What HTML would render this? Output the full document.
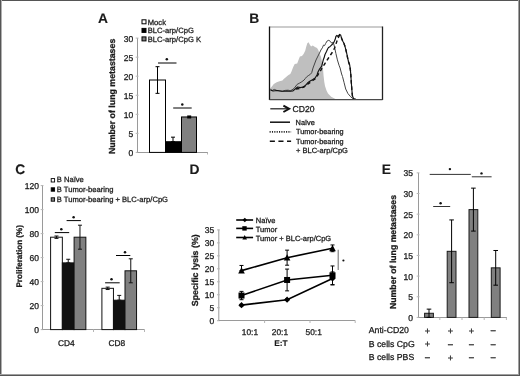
<!DOCTYPE html><html><head><meta charset="utf-8"><style>html,body{margin:0;padding:0;background:#fff;}svg{display:block;will-change:transform;text-rendering:geometricPrecision;}</style></head><body>
<svg width="520" height="376" viewBox="0 0 520 376" font-family='"Liberation Sans", sans-serif'>
<rect x="0" y="0" width="520" height="376" fill="#fff"/>
<g stroke-linecap="butt">
<text x="97.9" y="22.7" font-size="13.8" text-anchor="start" font-weight="bold" fill="#1a1a1a" stroke="#1a1a1a" stroke-width="0.12" >A</text>
<rect x="142" y="19.8" width="4" height="4" fill="#fff" stroke="#000" stroke-width="1"/>
<text x="147.8" y="24.8" font-size="7.6" text-anchor="start" fill="#1a1a1a" stroke="#1a1a1a" stroke-width="0.28" >Mock</text>
<rect x="142" y="28.4" width="4" height="4" fill="#000" stroke="#000" stroke-width="1"/>
<text x="147.8" y="33.4" font-size="7.6" text-anchor="start" fill="#1a1a1a" stroke="#1a1a1a" stroke-width="0.28" >BLC-arp/CpG</text>
<rect x="142" y="36.9" width="4" height="4" fill="#808080" stroke="#000" stroke-width="1"/>
<text x="147.8" y="41.9" font-size="7.6" text-anchor="start" fill="#1a1a1a" stroke="#1a1a1a" stroke-width="0.28" >BLC-arp/CpG K</text>
<line x1="137.5" y1="38.1" x2="137.5" y2="152.4" stroke="#9a9a9a" stroke-width="1" />
<line x1="135.7" y1="152.4" x2="138.5" y2="152.4" stroke="#b5b5b5" stroke-width="1" />
<text x="133.2" y="155.86" font-size="8.5" text-anchor="end" fill="#1a1a1a" stroke="#1a1a1a" stroke-width="0.28" >0</text>
<line x1="135.7" y1="133.35" x2="138.5" y2="133.35" stroke="#b5b5b5" stroke-width="1" />
<text x="133.2" y="136.81" font-size="8.5" text-anchor="end" fill="#1a1a1a" stroke="#1a1a1a" stroke-width="0.28" >5</text>
<line x1="135.7" y1="114.30000000000001" x2="138.5" y2="114.30000000000001" stroke="#b5b5b5" stroke-width="1" />
<text x="133.2" y="117.76000000000002" font-size="8.5" text-anchor="end" fill="#1a1a1a" stroke="#1a1a1a" stroke-width="0.28" >10</text>
<line x1="135.7" y1="95.25" x2="138.5" y2="95.25" stroke="#b5b5b5" stroke-width="1" />
<text x="133.2" y="98.71000000000001" font-size="8.5" text-anchor="end" fill="#1a1a1a" stroke="#1a1a1a" stroke-width="0.28" >15</text>
<line x1="135.7" y1="76.2" x2="138.5" y2="76.2" stroke="#b5b5b5" stroke-width="1" />
<text x="133.2" y="79.66000000000001" font-size="8.5" text-anchor="end" fill="#1a1a1a" stroke="#1a1a1a" stroke-width="0.28" >20</text>
<line x1="135.7" y1="57.150000000000006" x2="138.5" y2="57.150000000000006" stroke="#b5b5b5" stroke-width="1" />
<text x="133.2" y="60.61000000000001" font-size="8.5" text-anchor="end" fill="#1a1a1a" stroke="#1a1a1a" stroke-width="0.28" >25</text>
<line x1="135.7" y1="38.099999999999994" x2="138.5" y2="38.099999999999994" stroke="#b5b5b5" stroke-width="1" />
<text x="133.2" y="41.559999999999995" font-size="8.5" text-anchor="end" fill="#1a1a1a" stroke="#1a1a1a" stroke-width="0.28" >30</text>
<line x1="137.5" y1="152.5" x2="208" y2="152.5" stroke="#9a9a9a" stroke-width="1" />
<line x1="207.5" y1="152.5" x2="207.5" y2="154.5" stroke="#b5b5b5" stroke-width="1" />
<rect x="149.5" y="80.01" width="16" height="72.39" fill="#fff" stroke="#000" stroke-width="1"/>
<rect x="165.5" y="141.732" width="16" height="10.668000000000006" fill="#000" stroke="#000" stroke-width="1"/>
<rect x="181.5" y="116.96700000000001" width="15" height="35.43299999999999" fill="#808080" stroke="#000" stroke-width="1"/>
<line x1="157.5" y1="66.67500000000001" x2="157.5" y2="93.345" stroke="#000" stroke-width="1" />
<line x1="155.5" y1="66.67500000000001" x2="159.5" y2="66.67500000000001" stroke="#000" stroke-width="1" />
<line x1="155.5" y1="93.345" x2="159.5" y2="93.345" stroke="#000" stroke-width="1" />
<line x1="173.0" y1="137.16" x2="173.0" y2="141.732" stroke="#000" stroke-width="1" />
<line x1="171.0" y1="137.16" x2="175.0" y2="137.16" stroke="#000" stroke-width="1" />
<line x1="171.0" y1="141.732" x2="175.0" y2="141.732" stroke="#000" stroke-width="1" />
<line x1="189.2" y1="116.20500000000001" x2="189.2" y2="117.72900000000001" stroke="#000" stroke-width="1.5" />
<line x1="187.2" y1="116.20500000000001" x2="191.2" y2="116.20500000000001" stroke="#000" stroke-width="1.5" />
<line x1="187.2" y1="117.72900000000001" x2="191.2" y2="117.72900000000001" stroke="#000" stroke-width="1.5" />
<line x1="158" y1="63" x2="176.5" y2="63" stroke="#000" stroke-width="1" />
<circle cx="166.8" cy="59.3" r="1.25" fill="#111"/>
<line x1="173.2" y1="108" x2="191.7" y2="108" stroke="#000" stroke-width="1" />
<circle cx="182.3" cy="104.6" r="1.25" fill="#111"/>
<text x="0" y="0" font-size="8.8" font-weight="bold" text-anchor="middle" fill="#1a1a1a" stroke="#1a1a1a" stroke-width="0.28" transform="translate(114.5,96.4) rotate(-90)">Number of lung metastases</text>
<text x="249.3" y="22.8" font-size="13.8" text-anchor="start" font-weight="bold" fill="#1a1a1a" stroke="#1a1a1a" stroke-width="0.12" >B</text>
<path d="M 270,99.3 L 270,88.5 L 271.5,87 L 273.8,84.1 L 276.7,82.2 L 279.5,81.3 L 282.4,80.6 L 283.5,79.2 L 286.7,76.5 L 288.5,75 L 290.3,74 L 291.5,71.6 L 293.1,67.3 L 294.7,64.1 L 297.2,63.5 L 298.8,59.3 L 299.9,56.6 L 302,56.1 L 303.6,54 L 305.2,50.8 L 306.3,46.5 L 307.3,43.3 L 308.6,42.3 L 309.7,44.4 L 311.1,46.5 L 312.7,45.4 L 315,47 L 317,48 L 318.3,50 L 319.6,54 L 320.9,56.6 L 321.6,60 L 322.3,63 L 322.8,67 L 323.2,71 L 323.6,76 L 324.3,82 L 325,86 L 326.5,90.5 L 328,93.5 L 331.2,96.8 L 334.5,98.5 L 336,99.3 Z" fill="#bfbfbf" stroke="none"/>
<path d="M 270.5,89.5 L 272.3,90.4 L 274.3,89.4 L 276.7,90.4 L 279.5,90.9 L 282.4,91.3 L 285.3,90.4 L 288.2,90.2 L 290.1,90.9 L 292,89.9 L 294,88.5 L 297.1,84.4 L 299.2,83.3 L 301.9,81.7 L 304,80.1 L 305.3,78.5 L 306.6,76.9 L 308.8,75.3 L 310.4,74.3 L 311.7,72.7 L 313,68 L 314.5,64 L 316,60 L 318,56 L 319.5,53 L 320.9,50 L 322.4,47.8 L 323.5,45.1 L 324.6,45.6 L 325.6,43.5 L 327.2,40.9 L 328.8,40.3 L 330.4,41.4 L 331.5,43 L 332.6,42.4 L 333.6,43.5 L 334.3,46.1 L 335.9,53.5 L 337.4,59.9 L 339,65.2 L 340.1,68 L 341.6,74 L 342.5,76.5 L 344,82.3 L 345.7,89 L 347.9,93.5 L 350.7,96.8 L 353,98.7" fill="none" stroke="#444" stroke-width="1" stroke-linejoin="round"/>
<path d="M 270.5,90 L 273,91 L 277,90.5 L 282,91.2 L 287,91 L 290.1,91.3 L 293,90.9 L 297.6,87 L 300.3,87.6 L 302.9,87 L 304.8,86 L 306.4,84.4 L 307.7,82.8 L 309.8,81.2 L 312,80.1 L 313.6,79 L 315.1,78 L 317,75 L 318.1,71.8 L 319.3,69.4 L 320.5,67.8 L 321.7,66.2 L 322.5,63 L 323.3,59.8 L 324.1,57.8 L 325,54.5 L 326.5,51.5 L 327.6,49 L 328.5,47.5 L 329.9,46.7 L 331,45.6 L 332.6,44 L 334.1,41.9 L 335.2,39.3 L 335.9,36.5 L 336.9,35.4 L 338,36.5 L 339.6,34.4 L 340.6,34.9 L 341.7,38.6 L 342.8,41.3 L 343.8,42.9 L 344.9,46.1 L 346,50.3 L 347,54.6 L 347.6,57.8 L 348.6,62 L 349.7,65.2 L 350.4,70 L 350.9,76 L 351.3,82.3 L 351.8,89 L 352.4,95.7 L 353.5,98.5 L 355.7,99" fill="none" stroke="#111" stroke-width="1.15" stroke-linejoin="round"/>
<path d="M 296,89 L 300,88.5 L 304,87 L 308,84 L 312,81 L 315,79 L 317,76.5 L 319,73 L 321,70 L 323,66.5 L 325,63.5 L 326.5,61 L 328.5,58 L 330.5,55 L 332.2,52.5 L 333.6,50 L 334.8,47.5 L 335.8,44.5 L 336.8,41.5 L 337.8,38.8 L 338.8,36.8 L 339.6,35.2 L 340.6,35.4 L 341.7,38.6 L 342.8,41.3 L 343.8,43.2 L 344.9,46.1 L 346,50.3 L 347,54.6 L 347.6,57.8 L 348.6,62 L 349.7,65.2 L 350.4,70 L 350.9,76 L 351.3,82.3 L 351.8,89 L 352.4,95.7 L 353.5,98.5" fill="none" stroke="#111" stroke-width="1.4" stroke-dasharray="3.5,2.8" stroke-linejoin="round"/>
<line x1="269.5" y1="27" x2="382.5" y2="27" stroke="#9a9a9a" stroke-width="1.2" />
<line x1="269.5" y1="26.5" x2="269.5" y2="100" stroke="#111" stroke-width="1.3" />
<line x1="382.5" y1="26.5" x2="382.5" y2="100" stroke="#222" stroke-width="1.3" />
<line x1="269.5" y1="99.6" x2="382.5" y2="99.6" stroke="#4a4a4a" stroke-width="1.3" />
<line x1="270.3" y1="108.8" x2="288.5" y2="108.8" stroke="#222" stroke-width="1.25" />
<path d="M 283.4,105.6 L 289.2,108.8 L 283.4,112" fill="none" stroke="#111" stroke-width="1.9" stroke-linejoin="miter"/>
<text x="292.6" y="111.9" font-size="8.6" text-anchor="start" fill="#1a1a1a" stroke="#1a1a1a" stroke-width="0.28" >CD20</text>
<line x1="270" y1="122.2" x2="290" y2="122.2" stroke="#111" stroke-width="1.5" />
<text x="295.6" y="124.5" font-size="7.4" text-anchor="start" fill="#1a1a1a" stroke="#1a1a1a" stroke-width="0.28" >Na&#239;ve</text>
<line x1="269.6" y1="131.9" x2="291.1" y2="131.9" stroke="#222" stroke-width="1.7" stroke-dasharray="1.1,1.25"/>
<text x="296" y="133.9" font-size="7.3" text-anchor="start" fill="#1a1a1a" stroke="#1a1a1a" stroke-width="0.28" >Tumor-bearing</text>
<line x1="269.8" y1="141.3" x2="291.1" y2="141.3" stroke="#111" stroke-width="1.5" stroke-dasharray="5.1,3.5"/>
<text x="296" y="143.6" font-size="7.3" text-anchor="start" fill="#1a1a1a" stroke="#1a1a1a" stroke-width="0.28" >Tumor-bearing</text>
<text x="296" y="152.9" font-size="7.5" text-anchor="start" fill="#1a1a1a" stroke="#1a1a1a" stroke-width="0.28" >+ BLC-arp/CpG</text>
<text x="15.3" y="173.6" font-size="13.8" text-anchor="start" font-weight="bold" fill="#1a1a1a" stroke="#1a1a1a" stroke-width="0.12" >C</text>
<rect x="51.2" y="178.6" width="3.4" height="3.4" fill="#fff" stroke="#000" stroke-width="0.9"/>
<text x="56.8" y="182.45" font-size="7.6" text-anchor="start" fill="#1a1a1a" stroke="#1a1a1a" stroke-width="0.28" >B Na&#239;ve</text>
<rect x="51.2" y="187.8" width="3.4" height="3.4" fill="#000" stroke="#000" stroke-width="0.9"/>
<text x="56.8" y="191.65" font-size="7.6" text-anchor="start" fill="#1a1a1a" stroke="#1a1a1a" stroke-width="0.28" >B Tumor-bearing</text>
<rect x="51.2" y="197.8" width="3.4" height="3.4" fill="#808080" stroke="#000" stroke-width="0.9"/>
<text x="56.8" y="201.65" font-size="7.6" text-anchor="start" fill="#1a1a1a" stroke="#1a1a1a" stroke-width="0.28" >B Tumor-bearing + BLC-arp/CpG</text>
<line x1="42.5" y1="185.2" x2="42.5" y2="329.6" stroke="#9a9a9a" stroke-width="1" />
<line x1="40.7" y1="329.6" x2="43.5" y2="329.6" stroke="#b5b5b5" stroke-width="1" />
<text x="38.9" y="333.06" font-size="8.5" text-anchor="end" fill="#1a1a1a" stroke="#1a1a1a" stroke-width="0.28" >0</text>
<line x1="40.7" y1="305.6" x2="43.5" y2="305.6" stroke="#b5b5b5" stroke-width="1" />
<text x="38.9" y="309.06" font-size="8.5" text-anchor="end" fill="#1a1a1a" stroke="#1a1a1a" stroke-width="0.28" >20</text>
<line x1="40.7" y1="281.6" x2="43.5" y2="281.6" stroke="#b5b5b5" stroke-width="1" />
<text x="38.9" y="285.06" font-size="8.5" text-anchor="end" fill="#1a1a1a" stroke="#1a1a1a" stroke-width="0.28" >40</text>
<line x1="40.7" y1="257.6" x2="43.5" y2="257.6" stroke="#b5b5b5" stroke-width="1" />
<text x="38.9" y="261.06" font-size="8.5" text-anchor="end" fill="#1a1a1a" stroke="#1a1a1a" stroke-width="0.28" >60</text>
<line x1="40.7" y1="233.60000000000002" x2="43.5" y2="233.60000000000002" stroke="#b5b5b5" stroke-width="1" />
<text x="38.9" y="237.06000000000003" font-size="8.5" text-anchor="end" fill="#1a1a1a" stroke="#1a1a1a" stroke-width="0.28" >80</text>
<line x1="40.7" y1="209.60000000000002" x2="43.5" y2="209.60000000000002" stroke="#b5b5b5" stroke-width="1" />
<text x="38.9" y="213.06000000000003" font-size="8.5" text-anchor="end" fill="#1a1a1a" stroke="#1a1a1a" stroke-width="0.28" >100</text>
<line x1="40.7" y1="185.60000000000002" x2="43.5" y2="185.60000000000002" stroke="#b5b5b5" stroke-width="1" />
<text x="38.9" y="189.06000000000003" font-size="8.5" text-anchor="end" fill="#1a1a1a" stroke="#1a1a1a" stroke-width="0.28" >120</text>
<line x1="42.5" y1="329.5" x2="144.6" y2="329.5" stroke="#9a9a9a" stroke-width="1" />
<line x1="93.5" y1="329.5" x2="93.5" y2="332" stroke="#b5b5b5" stroke-width="1" />
<line x1="144.5" y1="329.5" x2="144.5" y2="332" stroke="#b5b5b5" stroke-width="1" />
<rect x="50.6" y="237.20000000000005" width="11.75" height="92.39999999999998" fill="#fff" stroke="#111" stroke-width="1"/>
<line x1="56.475" y1="236.00000000000003" x2="56.475" y2="238.40000000000003" stroke="#111" stroke-width="1" />
<line x1="54.475" y1="236.00000000000003" x2="58.475" y2="236.00000000000003" stroke="#111" stroke-width="1" />
<line x1="54.475" y1="238.40000000000003" x2="58.475" y2="238.40000000000003" stroke="#111" stroke-width="1" />
<rect x="62.35" y="262.88" width="11.75" height="66.72000000000003" fill="#111" stroke="#111" stroke-width="1"/>
<line x1="68.225" y1="259.28000000000003" x2="68.225" y2="262.88" stroke="#111" stroke-width="1" />
<line x1="66.225" y1="259.28000000000003" x2="70.225" y2="259.28000000000003" stroke="#111" stroke-width="1" />
<line x1="66.225" y1="262.88" x2="70.225" y2="262.88" stroke="#111" stroke-width="1" />
<rect x="74.1" y="237.20000000000005" width="11.75" height="92.39999999999998" fill="#808080" stroke="#111" stroke-width="1"/>
<line x1="79.975" y1="225.20000000000005" x2="79.975" y2="249.20000000000005" stroke="#111" stroke-width="1" />
<line x1="77.975" y1="225.20000000000005" x2="81.975" y2="225.20000000000005" stroke="#111" stroke-width="1" />
<line x1="77.975" y1="249.20000000000005" x2="81.975" y2="249.20000000000005" stroke="#111" stroke-width="1" />
<rect x="101.9" y="288.32000000000005" width="11.55" height="41.27999999999997" fill="#fff" stroke="#111" stroke-width="1"/>
<line x1="107.67500000000001" y1="287.12" x2="107.67500000000001" y2="289.52000000000004" stroke="#111" stroke-width="1" />
<line x1="105.67500000000001" y1="287.12" x2="109.67500000000001" y2="287.12" stroke="#111" stroke-width="1" />
<line x1="105.67500000000001" y1="289.52000000000004" x2="109.67500000000001" y2="289.52000000000004" stroke="#111" stroke-width="1" />
<rect x="113.45" y="300.20000000000005" width="11.55" height="29.399999999999977" fill="#111" stroke="#111" stroke-width="1"/>
<line x1="119.22500000000001" y1="295.40000000000003" x2="119.22500000000001" y2="300.20000000000005" stroke="#111" stroke-width="1" />
<line x1="117.22500000000001" y1="295.40000000000003" x2="121.22500000000001" y2="295.40000000000003" stroke="#111" stroke-width="1" />
<line x1="117.22500000000001" y1="300.20000000000005" x2="121.22500000000001" y2="300.20000000000005" stroke="#111" stroke-width="1" />
<rect x="125.0" y="270.8" width="11.55" height="58.80000000000001" fill="#808080" stroke="#111" stroke-width="1"/>
<line x1="130.775" y1="258.8" x2="130.775" y2="282.8" stroke="#111" stroke-width="1" />
<line x1="128.775" y1="258.8" x2="132.775" y2="258.8" stroke="#111" stroke-width="1" />
<line x1="128.775" y1="282.8" x2="132.775" y2="282.8" stroke="#111" stroke-width="1" />
<line x1="54.8" y1="232.6" x2="69.2" y2="232.6" stroke="#000" stroke-width="1" />
<circle cx="61.3" cy="229.3" r="1.25" fill="#111"/>
<line x1="66.6" y1="220.6" x2="80.9" y2="220.6" stroke="#000" stroke-width="1" />
<circle cx="73.6" cy="217.2" r="1.25" fill="#111"/>
<line x1="105.1" y1="282.8" x2="119.7" y2="282.8" stroke="#000" stroke-width="1" />
<circle cx="111.5" cy="279.2" r="1.25" fill="#111"/>
<line x1="116" y1="255.5" x2="130.3" y2="255.5" stroke="#000" stroke-width="1" />
<circle cx="125" cy="252.3" r="1.25" fill="#111"/>
<text x="57.9" y="345.8" font-size="8.4" text-anchor="start" fill="#1a1a1a" stroke="#1a1a1a" stroke-width="0.28" >CD4</text>
<text x="108.4" y="345.6" font-size="8.4" text-anchor="start" fill="#1a1a1a" stroke="#1a1a1a" stroke-width="0.28" >CD8</text>
<text x="0" y="0" font-size="8.1" font-weight="bold" text-anchor="middle" fill="#1a1a1a" stroke="#1a1a1a" stroke-width="0.28" transform="translate(21.6,256.3) rotate(-90)">Proliferation (%)</text>
<text x="189.5" y="173.7" font-size="13.8" text-anchor="start" font-weight="bold" fill="#1a1a1a" stroke="#1a1a1a" stroke-width="0.12" >D</text>
<line x1="218.8" y1="229.5" x2="218.8" y2="320.7" stroke="#9a9a9a" stroke-width="1" />
<line x1="217.0" y1="320.7" x2="219.8" y2="320.7" stroke="#b5b5b5" stroke-width="1" />
<text x="214.2" y="324.15999999999997" font-size="8.5" text-anchor="end" fill="#1a1a1a" stroke="#1a1a1a" stroke-width="0.28" >0</text>
<line x1="217.0" y1="307.73" x2="219.8" y2="307.73" stroke="#b5b5b5" stroke-width="1" />
<text x="214.2" y="311.19" font-size="8.5" text-anchor="end" fill="#1a1a1a" stroke="#1a1a1a" stroke-width="0.28" >5</text>
<line x1="217.0" y1="294.76" x2="219.8" y2="294.76" stroke="#b5b5b5" stroke-width="1" />
<text x="214.2" y="298.21999999999997" font-size="8.5" text-anchor="end" fill="#1a1a1a" stroke="#1a1a1a" stroke-width="0.28" >10</text>
<line x1="217.0" y1="281.78999999999996" x2="219.8" y2="281.78999999999996" stroke="#b5b5b5" stroke-width="1" />
<text x="214.2" y="285.24999999999994" font-size="8.5" text-anchor="end" fill="#1a1a1a" stroke="#1a1a1a" stroke-width="0.28" >15</text>
<line x1="217.0" y1="268.82" x2="219.8" y2="268.82" stroke="#b5b5b5" stroke-width="1" />
<text x="214.2" y="272.28" font-size="8.5" text-anchor="end" fill="#1a1a1a" stroke="#1a1a1a" stroke-width="0.28" >20</text>
<line x1="217.0" y1="255.85" x2="219.8" y2="255.85" stroke="#b5b5b5" stroke-width="1" />
<text x="214.2" y="259.30999999999995" font-size="8.5" text-anchor="end" fill="#1a1a1a" stroke="#1a1a1a" stroke-width="0.28" >25</text>
<line x1="217.0" y1="242.88" x2="219.8" y2="242.88" stroke="#b5b5b5" stroke-width="1" />
<text x="214.2" y="246.34" font-size="8.5" text-anchor="end" fill="#1a1a1a" stroke="#1a1a1a" stroke-width="0.28" >30</text>
<line x1="217.0" y1="229.91" x2="219.8" y2="229.91" stroke="#b5b5b5" stroke-width="1" />
<text x="214.2" y="233.37" font-size="8.5" text-anchor="end" fill="#1a1a1a" stroke="#1a1a1a" stroke-width="0.28" >35</text>
<line x1="218.8" y1="320.5" x2="355.2" y2="320.5" stroke="#9a9a9a" stroke-width="1" />
<line x1="264.6" y1="320.5" x2="264.6" y2="323" stroke="#b5b5b5" stroke-width="1" />
<line x1="310" y1="320.5" x2="310" y2="323" stroke="#b5b5b5" stroke-width="1" />
<line x1="355.2" y1="320.5" x2="355.2" y2="323" stroke="#b5b5b5" stroke-width="1" />
<path d="M 241.5,305.14 L 287.1,299.69 L 332.5,278.42" fill="none" stroke="#000" stroke-width="1.6"/>
<path d="M 241.5,295.54 L 287.1,279.97 L 332.5,275.31" fill="none" stroke="#000" stroke-width="1.6"/>
<path d="M 241.5,270.64 L 287.1,257.67 L 332.5,248.33" fill="none" stroke="#000" stroke-width="1.6"/>
<line x1="241.5" y1="304.3578" x2="241.5" y2="305.9142" stroke="#000" stroke-width="1" />
<line x1="239.5" y1="304.3578" x2="243.5" y2="304.3578" stroke="#000" stroke-width="1" />
<line x1="239.5" y1="305.9142" x2="243.5" y2="305.9142" stroke="#000" stroke-width="1" />
<line x1="287.1" y1="298.9104" x2="287.1" y2="300.4668" stroke="#000" stroke-width="1" />
<line x1="285.1" y1="298.9104" x2="289.1" y2="298.9104" stroke="#000" stroke-width="1" />
<line x1="285.1" y1="300.4668" x2="289.1" y2="300.4668" stroke="#000" stroke-width="1" />
<line x1="332.5" y1="271.9328" x2="332.5" y2="284.9028" stroke="#000" stroke-width="1" />
<line x1="330.5" y1="271.9328" x2="334.5" y2="271.9328" stroke="#000" stroke-width="1" />
<line x1="330.5" y1="284.9028" x2="334.5" y2="284.9028" stroke="#000" stroke-width="1" />
<line x1="241.5" y1="291.38779999999997" x2="241.5" y2="299.6886" stroke="#000" stroke-width="1" />
<line x1="239.5" y1="291.38779999999997" x2="243.5" y2="291.38779999999997" stroke="#000" stroke-width="1" />
<line x1="239.5" y1="299.6886" x2="243.5" y2="299.6886" stroke="#000" stroke-width="1" />
<line x1="287.1" y1="269.07939999999996" x2="287.1" y2="290.86899999999997" stroke="#000" stroke-width="1" />
<line x1="285.1" y1="269.07939999999996" x2="289.1" y2="269.07939999999996" stroke="#000" stroke-width="1" />
<line x1="285.1" y1="290.86899999999997" x2="289.1" y2="290.86899999999997" stroke="#000" stroke-width="1" />
<line x1="332.5" y1="265.96659999999997" x2="332.5" y2="284.6434" stroke="#000" stroke-width="1" />
<line x1="330.5" y1="265.96659999999997" x2="334.5" y2="265.96659999999997" stroke="#000" stroke-width="1" />
<line x1="330.5" y1="284.6434" x2="334.5" y2="284.6434" stroke="#000" stroke-width="1" />
<line x1="287.1" y1="250.14319999999998" x2="287.1" y2="265.1884" stroke="#000" stroke-width="1" />
<line x1="285.1" y1="250.14319999999998" x2="289.1" y2="250.14319999999998" stroke="#000" stroke-width="1" />
<line x1="285.1" y1="265.1884" x2="289.1" y2="265.1884" stroke="#000" stroke-width="1" />
<line x1="332.5" y1="244.9552" x2="332.5" y2="251.6996" stroke="#000" stroke-width="1" />
<line x1="330.5" y1="244.9552" x2="334.5" y2="244.9552" stroke="#000" stroke-width="1" />
<line x1="330.5" y1="251.6996" x2="334.5" y2="251.6996" stroke="#000" stroke-width="1" />
<line x1="241.5" y1="265.4478" x2="241.5" y2="270.6358" stroke="#000" stroke-width="1" />
<line x1="239.5" y1="265.4478" x2="243.5" y2="265.4478" stroke="#000" stroke-width="1" />
<line x1="239.5" y1="270.6358" x2="243.5" y2="270.6358" stroke="#000" stroke-width="1" />
<path d="M 241.5,302.03599999999994 L 244.6,305.13599999999997 L 241.5,308.236 L 238.4,305.13599999999997 Z" fill="#000"/>
<path d="M 287.1,296.5886 L 290.20000000000005,299.6886 L 287.1,302.78860000000003 L 284.0,299.6886 Z" fill="#000"/>
<path d="M 332.5,275.3178 L 335.6,278.4178 L 332.5,281.5178 L 329.4,278.4178 Z" fill="#000"/>
<rect x="238.5" y="292.5382" width="6.0" height="6.0" fill="#000"/>
<rect x="284.1" y="276.9742" width="6.0" height="6.0" fill="#000"/>
<rect x="329.5" y="272.305" width="6.0" height="6.0" fill="#000"/>
<path d="M 241.5,267.17080000000004 L 244.8,273.4408 L 238.2,273.4408 Z" fill="#000"/>
<path d="M 287.1,254.2008 L 290.40000000000003,260.4708 L 283.8,260.4708 Z" fill="#000"/>
<path d="M 332.5,244.8624 L 335.8,251.13240000000002 L 329.2,251.13240000000002 Z" fill="#000"/>
<line x1="338.2" y1="249.8" x2="338.2" y2="270" stroke="#777" stroke-width="1.1" />
<circle cx="343.4" cy="260.5" r="1.1" fill="#111"/>
<line x1="236.2" y1="220.0" x2="253.1" y2="220.0" stroke="#000" stroke-width="1.6" />
<path d="M 244.8,217.7 L 247.10000000000002,220.0 L 244.8,222.3 L 242.5,220.0 Z" fill="#000"/>
<text x="255.8" y="223.2" font-size="7.5" text-anchor="start" fill="#1a1a1a" stroke="#1a1a1a" stroke-width="0.28" >Na&#239;ve</text>
<line x1="236.2" y1="228.4" x2="253.1" y2="228.4" stroke="#000" stroke-width="1.6" />
<rect x="242.3" y="226.20000000000002" width="4.4" height="4.4" fill="#000"/>
<text x="255.8" y="231.6" font-size="7.5" text-anchor="start" fill="#1a1a1a" stroke="#1a1a1a" stroke-width="0.28" >Tumor</text>
<line x1="236.2" y1="237.5" x2="253.1" y2="237.5" stroke="#000" stroke-width="1.6" />
<path d="M 244.7,235.085 L 247.0,239.455 L 242.39999999999998,239.455 Z" fill="#000"/>
<text x="255.8" y="240.5" font-size="7.5" text-anchor="start" fill="#1a1a1a" stroke="#1a1a1a" stroke-width="0.28" >Tumor + BLC-arp/CpG</text>
<text x="241.8" y="335" font-size="8.4" text-anchor="start" fill="#1a1a1a" stroke="#1a1a1a" stroke-width="0.28" >10:1</text>
<text x="271.8" y="335" font-size="8.4" text-anchor="start" fill="#1a1a1a" stroke="#1a1a1a" stroke-width="0.28" >20:1</text>
<text x="305.5" y="335" font-size="8.4" text-anchor="start" fill="#1a1a1a" stroke="#1a1a1a" stroke-width="0.28" >50:1</text>
<text x="274.2" y="346.3" font-size="8.4" text-anchor="start" font-weight="bold" fill="#1a1a1a" stroke="#1a1a1a" stroke-width="0.12" >E:T</text>
<text x="0" y="0" font-size="8.8" font-weight="bold" text-anchor="middle" fill="#1a1a1a" stroke="#1a1a1a" stroke-width="0.28" transform="translate(198.3,270.3) rotate(-90)">Specific lysis (%)</text>
<text x="381.7" y="174" font-size="13.8" text-anchor="start" font-weight="bold" fill="#1a1a1a" stroke="#1a1a1a" stroke-width="0.12" >E</text>
<line x1="418.5" y1="173" x2="418.5" y2="317.4" stroke="#9a9a9a" stroke-width="1" />
<line x1="416.7" y1="317.4" x2="419.5" y2="317.4" stroke="#b5b5b5" stroke-width="1" />
<text x="412.9" y="320.85999999999996" font-size="8.5" text-anchor="end" fill="#1a1a1a" stroke="#1a1a1a" stroke-width="0.28" >0</text>
<line x1="416.7" y1="296.75" x2="419.5" y2="296.75" stroke="#b5b5b5" stroke-width="1" />
<text x="412.9" y="300.21" font-size="8.5" text-anchor="end" fill="#1a1a1a" stroke="#1a1a1a" stroke-width="0.28" >5</text>
<line x1="416.7" y1="276.09999999999997" x2="419.5" y2="276.09999999999997" stroke="#b5b5b5" stroke-width="1" />
<text x="412.9" y="279.55999999999995" font-size="8.5" text-anchor="end" fill="#1a1a1a" stroke="#1a1a1a" stroke-width="0.28" >10</text>
<line x1="416.7" y1="255.45" x2="419.5" y2="255.45" stroke="#b5b5b5" stroke-width="1" />
<text x="412.9" y="258.90999999999997" font-size="8.5" text-anchor="end" fill="#1a1a1a" stroke="#1a1a1a" stroke-width="0.28" >15</text>
<line x1="416.7" y1="234.79999999999998" x2="419.5" y2="234.79999999999998" stroke="#b5b5b5" stroke-width="1" />
<text x="412.9" y="238.26" font-size="8.5" text-anchor="end" fill="#1a1a1a" stroke="#1a1a1a" stroke-width="0.28" >20</text>
<line x1="416.7" y1="214.14999999999998" x2="419.5" y2="214.14999999999998" stroke="#b5b5b5" stroke-width="1" />
<text x="412.9" y="217.60999999999999" font-size="8.5" text-anchor="end" fill="#1a1a1a" stroke="#1a1a1a" stroke-width="0.28" >25</text>
<line x1="416.7" y1="193.5" x2="419.5" y2="193.5" stroke="#b5b5b5" stroke-width="1" />
<text x="412.9" y="196.96" font-size="8.5" text-anchor="end" fill="#1a1a1a" stroke="#1a1a1a" stroke-width="0.28" >30</text>
<line x1="416.7" y1="172.85" x2="419.5" y2="172.85" stroke="#b5b5b5" stroke-width="1" />
<text x="412.9" y="176.31" font-size="8.5" text-anchor="end" fill="#1a1a1a" stroke="#1a1a1a" stroke-width="0.28" >35</text>
<line x1="418.5" y1="317.5" x2="507" y2="317.5" stroke="#9a9a9a" stroke-width="1" />
<line x1="439.8" y1="317.5" x2="439.8" y2="320" stroke="#b5b5b5" stroke-width="1" />
<line x1="462" y1="317.5" x2="462" y2="320" stroke="#b5b5b5" stroke-width="1" />
<line x1="484.2" y1="317.5" x2="484.2" y2="320" stroke="#b5b5b5" stroke-width="1" />
<line x1="506.4" y1="317.5" x2="506.4" y2="320" stroke="#b5b5b5" stroke-width="1" />
<rect x="424.6" y="313.27" width="8.8" height="4.1299999999999955" fill="#808080" stroke="#1a1a1a" stroke-width="1"/>
<line x1="429.0" y1="309.14" x2="429.0" y2="317.4" stroke="#000" stroke-width="1" />
<line x1="426.7" y1="309.14" x2="431.3" y2="309.14" stroke="#000" stroke-width="1" />
<line x1="426.7" y1="317.4" x2="431.3" y2="317.4" stroke="#000" stroke-width="1" />
<rect x="447.20000000000005" y="251.32" width="8.8" height="66.07999999999998" fill="#808080" stroke="#1a1a1a" stroke-width="1"/>
<line x1="451.6" y1="219.93199999999996" x2="451.6" y2="282.70799999999997" stroke="#000" stroke-width="1" />
<line x1="449.3" y1="219.93199999999996" x2="453.90000000000003" y2="219.93199999999996" stroke="#000" stroke-width="1" />
<line x1="449.3" y1="282.70799999999997" x2="453.90000000000003" y2="282.70799999999997" stroke="#000" stroke-width="1" />
<rect x="469.0" y="209.60699999999997" width="8.8" height="107.793" fill="#808080" stroke="#1a1a1a" stroke-width="1"/>
<line x1="473.4" y1="188.13099999999997" x2="473.4" y2="231.08299999999997" stroke="#000" stroke-width="1" />
<line x1="471.09999999999997" y1="188.13099999999997" x2="475.7" y2="188.13099999999997" stroke="#000" stroke-width="1" />
<line x1="471.09999999999997" y1="231.08299999999997" x2="475.7" y2="231.08299999999997" stroke="#000" stroke-width="1" />
<rect x="491.3" y="267.84" width="8.8" height="49.56" fill="#808080" stroke="#1a1a1a" stroke-width="1"/>
<line x1="495.7" y1="250.49399999999997" x2="495.7" y2="285.186" stroke="#000" stroke-width="1" />
<line x1="493.4" y1="250.49399999999997" x2="498.0" y2="250.49399999999997" stroke="#000" stroke-width="1" />
<line x1="493.4" y1="285.186" x2="498.0" y2="285.186" stroke="#000" stroke-width="1" />
<line x1="429.7" y1="174.4" x2="470.8" y2="174.4" stroke="#333" stroke-width="1" />
<circle cx="449.9" cy="169.1" r="1.2" fill="#111"/>
<line x1="471.8" y1="176.8" x2="491.6" y2="176.8" stroke="#333" stroke-width="1" />
<circle cx="481.5" cy="173.4" r="1.2" fill="#111"/>
<line x1="433.2" y1="206.5" x2="450.2" y2="206.5" stroke="#333" stroke-width="1" />
<circle cx="440.6" cy="203.2" r="1.2" fill="#111"/>
<text x="0" y="0" font-size="8.7" font-weight="bold" text-anchor="middle" fill="#1a1a1a" stroke="#1a1a1a" stroke-width="0.28" transform="translate(395.9,252.0) rotate(-90)">Number of lung metastases</text>
<text x="368.8" y="333.1" font-size="8.7" text-anchor="start" fill="#1a1a1a" stroke="#1a1a1a" stroke-width="0.28" >Anti-CD20</text>
<text x="427.4" y="333.70000000000005" font-size="9.2" text-anchor="middle" fill="#1a1a1a" stroke="#1a1a1a" stroke-width="0.28" >+</text>
<text x="450.4" y="333.70000000000005" font-size="9.2" text-anchor="middle" fill="#1a1a1a" stroke="#1a1a1a" stroke-width="0.28" >+</text>
<text x="471.4" y="333.70000000000005" font-size="9.2" text-anchor="middle" fill="#1a1a1a" stroke="#1a1a1a" stroke-width="0.28" >+</text>
<text x="493.2" y="333.3" font-size="8.7" text-anchor="middle" fill="#1a1a1a" stroke="#1a1a1a" stroke-width="0.28" >&#8211;</text>
<text x="368.8" y="346.5" font-size="8.7" text-anchor="start" fill="#1a1a1a" stroke="#1a1a1a" stroke-width="0.28" >B cells CpG</text>
<text x="427.4" y="347.1" font-size="9.2" text-anchor="middle" fill="#1a1a1a" stroke="#1a1a1a" stroke-width="0.28" >+</text>
<text x="450.4" y="346.7" font-size="8.7" text-anchor="middle" fill="#1a1a1a" stroke="#1a1a1a" stroke-width="0.28" >&#8211;</text>
<text x="471.4" y="346.7" font-size="8.7" text-anchor="middle" fill="#1a1a1a" stroke="#1a1a1a" stroke-width="0.28" >&#8211;</text>
<text x="493.2" y="346.7" font-size="8.7" text-anchor="middle" fill="#1a1a1a" stroke="#1a1a1a" stroke-width="0.28" >&#8211;</text>
<text x="368.8" y="360" font-size="8.7" text-anchor="start" fill="#1a1a1a" stroke="#1a1a1a" stroke-width="0.28" >B cells PBS</text>
<text x="427.4" y="360.2" font-size="8.7" text-anchor="middle" fill="#1a1a1a" stroke="#1a1a1a" stroke-width="0.28" >&#8211;</text>
<text x="450.4" y="360.6" font-size="9.2" text-anchor="middle" fill="#1a1a1a" stroke="#1a1a1a" stroke-width="0.28" >+</text>
<text x="471.4" y="360.2" font-size="8.7" text-anchor="middle" fill="#1a1a1a" stroke="#1a1a1a" stroke-width="0.28" >&#8211;</text>
<text x="493.2" y="360.2" font-size="8.7" text-anchor="middle" fill="#1a1a1a" stroke="#1a1a1a" stroke-width="0.28" >&#8211;</text>
<rect x="0" y="0" width="520" height="1" fill="#555"/>
<rect x="1" y="0" width="1" height="376" fill="#b0b0b0"/>
<rect x="0" y="0" width="1" height="376" fill="#555"/>
<rect x="518" y="0" width="1" height="376" fill="#a0a0a0"/>
<rect x="519" y="0" width="1" height="376" fill="#555"/>
<rect x="0" y="374" width="519" height="1" fill="#a0a0a0"/>
<rect x="0" y="375" width="520" height="1" fill="#555"/>
</g></svg></body></html>
